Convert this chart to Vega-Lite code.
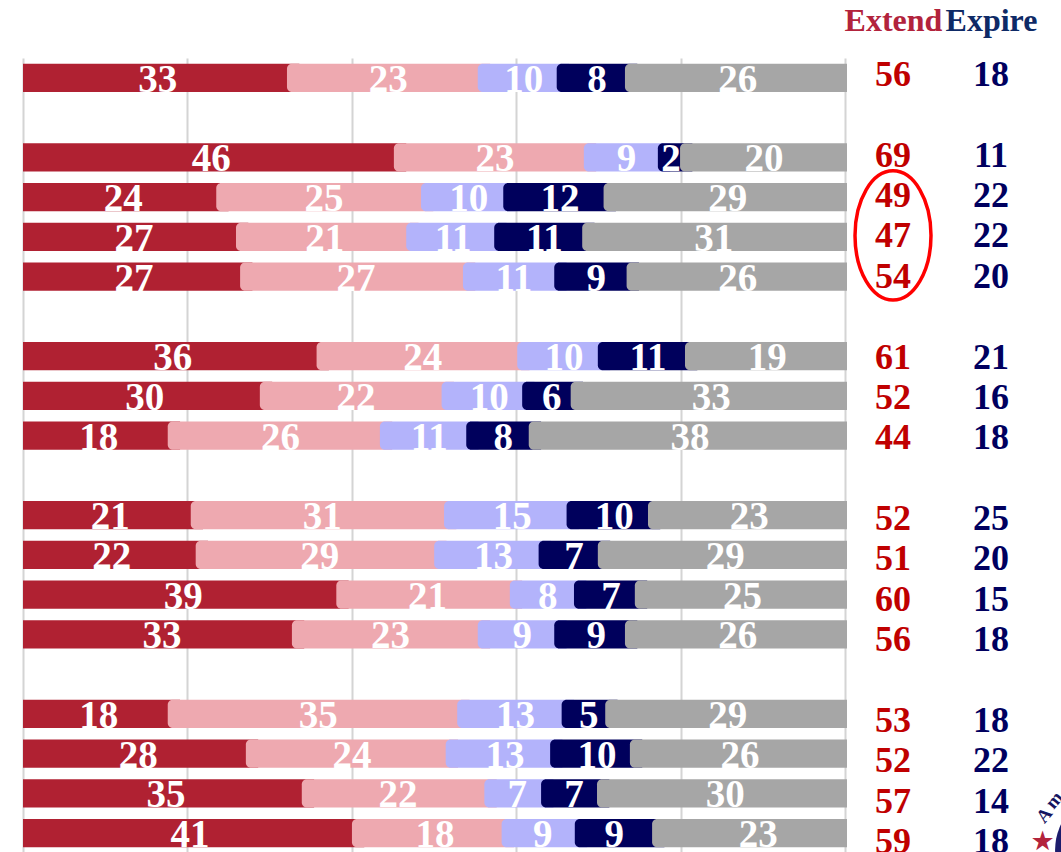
{"$schema":"https://vega.github.io/schema/vega-lite/v6.json","width":824,"height":795,"autosize":"none","padding":{"left":23,"top":58,"right":214,"bottom":0},"background":"white","config":{"view":{"stroke":null}},
"datasets":{"bars":[
{"row":"r0","seg":"a","start":0,"mid":16.4,"label":33},{"row":"r0","seg":"b","start":32.1,"mid":44.4,"label":23},{"row":"r0","seg":"c","start":55.3,"mid":60.9,"label":10},{"row":"r0","seg":"d","start":64.9,"mid":69.8,"label":8},{"row":"r0","seg":"e","start":73.2,"mid":86.9,"label":26},
{"row":"r2","seg":"a","start":0,"mid":22.9,"label":46},{"row":"r2","seg":"b","start":45.1,"mid":57.4,"label":23},{"row":"r2","seg":"c","start":68.2,"mid":73.4,"label":9},{"row":"r2","seg":"d","start":77.2,"mid":78.8,"label":2},{"row":"r2","seg":"e","start":79.9,"mid":90.1,"label":20},
{"row":"r3","seg":"a","start":0,"mid":12.2,"label":24},{"row":"r3","seg":"b","start":23.5,"mid":36.6,"label":25},{"row":"r3","seg":"c","start":48.4,"mid":54.2,"label":10},{"row":"r3","seg":"d","start":58.4,"mid":65.3,"label":12},{"row":"r3","seg":"e","start":70.6,"mid":85.7,"label":29},
{"row":"r4","seg":"a","start":0,"mid":13.5,"label":27},{"row":"r4","seg":"b","start":25.9,"mid":36.7,"label":21},{"row":"r4","seg":"c","start":46.6,"mid":52.3,"label":11},{"row":"r4","seg":"d","start":57.3,"mid":63.4,"label":11},{"row":"r4","seg":"e","start":68.0,"mid":84.0,"label":31},
{"row":"r5","seg":"a","start":0,"mid":13.5,"label":27},{"row":"r5","seg":"b","start":26.4,"mid":40.5,"label":27},{"row":"r5","seg":"c","start":53.5,"mid":59.7,"label":11},{"row":"r5","seg":"d","start":64.6,"mid":69.7,"label":9},{"row":"r5","seg":"e","start":73.4,"mid":86.9,"label":26},
{"row":"r7","seg":"a","start":0,"mid":18.2,"label":36},{"row":"r7","seg":"b","start":35.7,"mid":48.6,"label":24},{"row":"r7","seg":"c","start":60.1,"mid":65.8,"label":10},{"row":"r7","seg":"d","start":69.9,"mid":76.0,"label":11},{"row":"r7","seg":"e","start":80.5,"mid":90.5,"label":19},
{"row":"r8","seg":"a","start":0,"mid":14.8,"label":30},{"row":"r8","seg":"b","start":28.8,"mid":40.5,"label":22},{"row":"r8","seg":"c","start":50.9,"mid":56.7,"label":10},{"row":"r8","seg":"d","start":60.7,"mid":64.3,"label":6},{"row":"r8","seg":"e","start":66.6,"mid":83.7,"label":33},
{"row":"r9","seg":"a","start":0,"mid":9.2,"label":18},{"row":"r9","seg":"b","start":17.6,"mid":31.3,"label":26},{"row":"r9","seg":"c","start":43.4,"mid":49.4,"label":11},{"row":"r9","seg":"d","start":53.9,"mid":58.4,"label":8},{"row":"r9","seg":"e","start":61.5,"mid":81.1,"label":38},
{"row":"r11","seg":"a","start":0,"mid":10.6,"label":21},{"row":"r11","seg":"b","start":20.4,"mid":36.4,"label":31},{"row":"r11","seg":"c","start":51.2,"mid":59.5,"label":15},{"row":"r11","seg":"d","start":66.1,"mid":71.9,"label":10},{"row":"r11","seg":"e","start":76.0,"mid":88.3,"label":23},
{"row":"r12","seg":"a","start":0,"mid":10.8,"label":22},{"row":"r12","seg":"b","start":21.0,"mid":36.1,"label":29},{"row":"r12","seg":"c","start":50.0,"mid":57.2,"label":13},{"row":"r12","seg":"d","start":62.7,"mid":67.0,"label":7},{"row":"r12","seg":"e","start":69.9,"mid":85.4,"label":29},
{"row":"r13","seg":"a","start":0,"mid":19.5,"label":39},{"row":"r13","seg":"b","start":38.1,"mid":49.2,"label":21},{"row":"r13","seg":"c","start":59.2,"mid":63.8,"label":8},{"row":"r13","seg":"d","start":67.0,"mid":71.5,"label":7},{"row":"r13","seg":"e","start":74.4,"mid":87.5,"label":25},
{"row":"r14","seg":"a","start":0,"mid":16.9,"label":33},{"row":"r14","seg":"b","start":32.7,"mid":44.7,"label":23},{"row":"r14","seg":"c","start":55.3,"mid":60.7,"label":9},{"row":"r14","seg":"d","start":64.6,"mid":69.7,"label":9},{"row":"r14","seg":"e","start":73.2,"mid":86.9,"label":26},
{"row":"r16","seg":"a","start":0,"mid":9.2,"label":18},{"row":"r16","seg":"b","start":17.6,"mid":35.9,"label":35},{"row":"r16","seg":"c","start":52.8,"mid":59.9,"label":13},{"row":"r16","seg":"d","start":65.5,"mid":68.8,"label":5},{"row":"r16","seg":"e","start":70.8,"mid":85.7,"label":29},
{"row":"r17","seg":"a","start":0,"mid":14.0,"label":28},{"row":"r17","seg":"b","start":27.1,"mid":40.0,"label":24},{"row":"r17","seg":"c","start":51.4,"mid":58.6,"label":13},{"row":"r17","seg":"d","start":64.1,"mid":69.8,"label":10},{"row":"r17","seg":"e","start":73.8,"mid":87.2,"label":26},
{"row":"r18","seg":"a","start":0,"mid":17.4,"label":35},{"row":"r18","seg":"b","start":33.9,"mid":45.6,"label":22},{"row":"r18","seg":"c","start":56.1,"mid":60.1,"label":7},{"row":"r18","seg":"d","start":63.0,"mid":67.0,"label":7},{"row":"r18","seg":"e","start":69.8,"mid":85.4,"label":30},
{"row":"r19","seg":"a","start":0,"mid":20.3,"label":41},{"row":"r19","seg":"b","start":40.0,"mid":50.1,"label":18},{"row":"r19","seg":"c","start":58.2,"mid":63.2,"label":9},{"row":"r19","seg":"d","start":67.1,"mid":71.9,"label":9},{"row":"r19","seg":"e","start":76.5,"mid":89.4,"label":23}
],
"totals":[
{"row":"r0","col":"Extend","n":56},{"row":"r0","col":"Expire","n":18},
{"row":"r2","col":"Extend","n":69},{"row":"r2","col":"Expire","n":11},
{"row":"r3","col":"Extend","n":49},{"row":"r3","col":"Expire","n":22},
{"row":"r4","col":"Extend","n":47},{"row":"r4","col":"Expire","n":22},
{"row":"r5","col":"Extend","n":54},{"row":"r5","col":"Expire","n":20},
{"row":"r7","col":"Extend","n":61},{"row":"r7","col":"Expire","n":21},
{"row":"r8","col":"Extend","n":52},{"row":"r8","col":"Expire","n":16},
{"row":"r9","col":"Extend","n":44},{"row":"r9","col":"Expire","n":18},
{"row":"r11","col":"Extend","n":52},{"row":"r11","col":"Expire","n":25},
{"row":"r12","col":"Extend","n":51},{"row":"r12","col":"Expire","n":20},
{"row":"r13","col":"Extend","n":60},{"row":"r13","col":"Expire","n":15},
{"row":"r14","col":"Extend","n":56},{"row":"r14","col":"Expire","n":18},
{"row":"r16","col":"Extend","n":53},{"row":"r16","col":"Expire","n":18},
{"row":"r17","col":"Extend","n":52},{"row":"r17","col":"Expire","n":22},
{"row":"r18","col":"Extend","n":57},{"row":"r18","col":"Expire","n":14},
{"row":"r19","col":"Extend","n":59},{"row":"r19","col":"Expire","n":18}
],
"logo":[{"row":"r19","pos":124.0,"glyph":"★"},{"row":"r19","pos":124.2,"glyph":"A"},{"row":"r19","pos":125.4,"glyph":"m"},{"row":"r19","pos":132.8,"glyph":"seal"}]
},
"resolve":{"scale":{"x":"independent","y":"independent","color":"independent"},"axis":{"x":"independent","y":"independent"}},
"layer":[
{"encoding":{"y":{"field":"row","type":"ordinal","axis":null,"scale":{"type":"band","domain":["r0","r1","r2","r3","r4","r5","r6","r7","r8","r9","r10","r11","r12","r13","r14","r15","r16","r17","r18","r19"],"paddingInner":0.295,"paddingOuter":0.1475}}},
"layer":[
{"data":{"name":"bars"},"transform":[{"window":[{"op":"lead","field":"start","as":"next"}],"groupby":["row"],"sort":[{"field":"start"}]},{"calculate":"min((datum.next||100.2)+1.5,100.2)","as":"end"},{"filter":"datum.seg=='a'"}],
"mark":{"type":"bar"},
"encoding":{"x":{"field":"start","type":"quantitative","scale":{"domain":[0,100.2],"nice":false,"zero":false},"axis":{"values":[0,20,40,60,80,100],"grid":true,"gridColor":"#d4d4d4","gridWidth":2,"domain":false,"ticks":false,"labels":false,"title":null}},
"x2":{"field":"end"},
"color":{"field":"seg","type":"nominal","legend":null,"scale":{"domain":["a","b","c","d","e"],"range":["#B02132","#EEA9B0","#B3B3FB","#00005C","#A6A6A6"]}}}},
{"data":{"name":"bars"},"transform":[{"window":[{"op":"lead","field":"start","as":"next"}],"groupby":["row"],"sort":[{"field":"start"}]},{"calculate":"min((datum.next||100.2)+1.5,100.2)","as":"end"},{"filter":"datum.seg!='a'"}],
"mark":{"type":"bar","cornerRadiusTopLeft":5,"cornerRadiusBottomLeft":5},
"encoding":{"x":{"field":"start","type":"quantitative"},"x2":{"field":"end"},"color":{"field":"seg","type":"nominal","legend":null}}},
{"data":{"name":"bars"},"mark":{"type":"text","font":"Liberation Serif","fontWeight":"bold","fontSize":39,"color":"white","baseline":"middle","dy":2},
"encoding":{"x":{"field":"mid","type":"quantitative"},"text":{"field":"label","type":"quantitative"}}},
{"data":{"name":"logo"},"transform":[{"filter":"datum.glyph=='seal'"}],"mark":{"type":"point","shape":"circle","filled":true,"color":"#1C1C6C","opacity":1,"size":14400,"yOffset":17,"clip":false},"encoding":{"x":{"field":"pos","type":"quantitative"}}},
{"data":{"name":"logo"},"transform":[{"filter":"datum.glyph=='★'"}],"mark":{"type":"text","font":"DejaVu Sans","fontSize":27,"color":"#B2233C","baseline":"middle","dy":9},"encoding":{"x":{"field":"pos","type":"quantitative"},"text":{"field":"glyph"}}},
{"data":{"name":"logo"},"transform":[{"filter":"datum.glyph=='A'"}],"mark":{"type":"text","font":"Liberation Serif","fontWeight":"bold","fontSize":19,"color":"#14145F","angle":-50,"baseline":"middle","dx":13.8,"dy":-11.6},"encoding":{"x":{"field":"pos","type":"quantitative"},"text":{"field":"glyph"}}},
{"data":{"name":"logo"},"transform":[{"filter":"datum.glyph=='m'"}],"mark":{"type":"text","font":"Liberation Serif","fontWeight":"bold","fontSize":19,"color":"#14145F","angle":-50,"baseline":"middle","dx":25.3,"dy":-21.2},"encoding":{"x":{"field":"pos","type":"quantitative"},"text":{"field":"glyph"}}}
]},
{"data":{"name":"totals"},
"encoding":{"x":{"field":"col","type":"nominal","scale":{"type":"point","padding":0,"domain":["Extend","Expire"],"range":[870,968]},"axis":{"orient":"top","domain":false,"ticks":false,"grid":false,"title":null,"labelAngle":0,"labelFont":"Liberation Serif","labelFontWeight":"bold","labelFontSize":32,"labelPadding":21,"labelColor":{"expr":"datum.label=='Extend'?'#B2233C':'#0E2A66'"}}},
"y":{"field":"row","type":"ordinal","axis":null,"scale":{"type":"point","padding":0,"domain":["r0","r1","r2","r3","r4","r5","r6","r7","r8","r9","r10","r11","r12","r13","r14","r15","r16","r17","r18","r19"],"range":[16,783]}}},
"layer":[
{"mark":{"type":"text","font":"Liberation Serif","fontWeight":"bold","fontSize":36,"baseline":"middle","dy":1},
"encoding":{"text":{"field":"n","type":"quantitative"},"color":{"field":"col","type":"nominal","legend":null,"scale":{"domain":["Extend","Expire"],"range":["#C00000","#00005F"]}}}},
{"transform":[{"filter":"datum.row=='r4' && datum.col=='Extend'"}],
"mark":{"type":"point","filled":false,"stroke":"#FF0000","strokeWidth":3.5,"opacity":1,"shape":"M-0.5,0A0.5,0.85 0 1,1 0.5,0A0.5,0.85 0 1,1 -0.5,0Z","size":23104}}
]}
]}
